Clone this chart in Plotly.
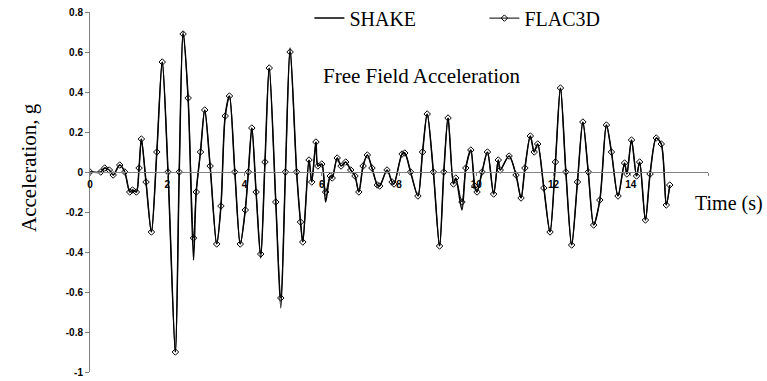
import plotly.graph_objects as go

# Time (s) of points
time_s = [0.00, 0.28, 0.38, 0.50, 0.60, 0.77, 0.90, 1.03, 1.10, 1.20,
          1.27, 1.33, 1.45, 1.59, 1.73, 1.87, 2.02, 2.21, 2.31, 2.41,
          2.54, 2.68, 2.75, 2.86, 2.97, 3.11, 3.28, 3.39, 3.50, 3.61,
          3.75, 3.89, 4.02, 4.10, 4.19, 4.30, 4.42, 4.53, 4.64, 4.81,
          4.94, 5.06, 5.18, 5.35, 5.45, 5.51, 5.67, 5.74, 5.85, 5.90,
          6.00, 6.10, 6.22, 6.27, 6.40, 6.50, 6.62, 6.75, 6.86, 6.96,
          7.07, 7.18, 7.30, 7.44, 7.50, 7.69, 7.82, 7.87, 8.08, 8.15,
          8.30, 8.49, 8.61, 8.73, 8.89, 9.05, 9.16, 9.27, 9.41, 9.47,
          9.63, 9.73, 9.86, 9.96, 10.02, 10.15, 10.29, 10.45, 10.57, 10.62,
          10.85, 11.03, 11.16, 11.26, 11.40, 11.50, 11.59, 11.75, 11.91, 12.05,
          12.18, 12.32, 12.47, 12.62, 12.76, 12.90, 13.04, 13.20, 13.37, 13.50,
          13.67, 13.84, 13.90, 14.02, 14.15, 14.23, 14.38, 14.50, 14.66, 14.79,
          14.92, 15.01]

shake_g = [0.000, 0.000, 0.020, 0.010, -0.015, 0.035, 0.000, -0.100, -0.090, -0.100,
           0.020, 0.165, -0.050, -0.300, 0.100, 0.550, 0.000, -0.900, 0.000, 0.700,
           0.370, -0.440, -0.100, 0.100, 0.310, 0.030, -0.360, -0.170, 0.280, 0.380,
           0.000, -0.360, -0.190, 0.000, 0.220, -0.100, -0.430, 0.050, 0.520, -0.150,
           -0.680, 0.000, 0.620, 0.000, -0.250, -0.350, 0.060, -0.050, 0.150, 0.030,
           0.040, -0.150, -0.020, -0.030, 0.070, 0.030, 0.050, 0.010, -0.020, -0.100,
           0.030, 0.085, 0.020, -0.065, -0.070, 0.010, -0.050, -0.060, 0.090, 0.095,
           0.000, -0.120, 0.100, 0.290, 0.000, -0.370, 0.000, 0.270, -0.060, -0.030,
           -0.190, 0.020, 0.110, -0.070, -0.100, 0.000, 0.100, -0.110, 0.060, 0.010,
           0.080, -0.015, -0.130, 0.020, 0.180, 0.100, 0.140, -0.080, -0.300, 0.050,
           0.420, 0.000, -0.365, -0.050, 0.250, 0.000, -0.265, -0.140, 0.235, 0.100,
           -0.120, 0.045, -0.010, 0.160, -0.020, 0.050, -0.240, -0.010, 0.170, 0.140,
           -0.165, -0.065]

flac3d_g = [0.000, 0.000, 0.020, 0.010, -0.015, 0.035, 0.000, -0.100, -0.090, -0.100,
            0.020, 0.165, -0.050, -0.300, 0.100, 0.550, 0.000, -0.900, 0.000, 0.690,
            0.370, -0.330, -0.100, 0.100, 0.310, 0.030, -0.360, -0.170, 0.280, 0.380,
            0.000, -0.360, -0.190, 0.000, 0.220, -0.100, -0.410, 0.050, 0.520, -0.150,
            -0.630, 0.000, 0.600, 0.000, -0.250, -0.350, 0.060, -0.050, 0.150, 0.030,
            0.040, -0.100, -0.020, -0.030, 0.070, 0.030, 0.050, 0.010, -0.020, -0.100,
            0.030, 0.085, 0.020, -0.065, -0.070, 0.010, -0.050, -0.060, 0.090, 0.095,
            0.000, -0.120, 0.100, 0.290, 0.000, -0.370, 0.000, 0.270, -0.060, -0.030,
            -0.150, 0.020, 0.110, -0.070, -0.100, 0.000, 0.100, -0.110, 0.060, 0.010,
            0.080, -0.015, -0.130, 0.020, 0.180, 0.100, 0.140, -0.080, -0.300, 0.050,
            0.420, 0.000, -0.365, -0.050, 0.250, 0.000, -0.265, -0.140, 0.235, 0.100,
            -0.120, 0.045, -0.010, 0.160, -0.020, 0.050, -0.240, -0.010, 0.170, 0.140,
            -0.165, -0.065]

x_ticks = [0, 2, 4, 6, 8, 10, 12, 14, 16]
x_tick_text = ["0", "2", "4", "6", "8", "10", "12", "14", ""]
y_ticks = [0.8, 0.6, 0.4, 0.2, 0, -0.2, -0.4, -0.6, -0.8, -1]
y_tick_text = ["0.8", "0.6", "0.4", "0.2", "0", "-0.2", "-0.4", "-0.6", "-0.8", "-1"]

serif = "Liberation Serif, Times New Roman, serif"
tickfont = dict(family="Liberation Sans, Arial, sans-serif", size=10, color="black", weight="bold")

fig = go.Figure()
fig.add_trace(go.Scatter(
    x=time_s, y=shake_g, name="SHAKE", mode="lines",
    line=dict(color="black", width=1.5, shape="spline", smoothing=0.8),
))
fig.add_trace(go.Scatter(
    x=time_s, y=flac3d_g, name="FLAC3D", mode="lines+markers",
    line=dict(color="black", width=1, shape="spline", smoothing=0.8),
    marker=dict(symbol="diamond-open", size=5, color="black", line=dict(width=1, color="black")),
))

fig.update_layout(
    width=767, height=381,
    margin=dict(l=90, r=59, t=12, b=9, autoexpand=False),
    paper_bgcolor="white", plot_bgcolor="white",
    showlegend=True,
    legend=dict(
        orientation="h", x=0.355, xanchor="left", y=0.983, yanchor="middle",
        font=dict(family=serif, size=20, color="black"),
        bgcolor="rgba(0,0,0,0)", entrywidth=130, entrywidthmode="pixels",
        itemwidth=30,
    ),
    xaxis=dict(
        range=[0, 16], tickvals=x_ticks, ticktext=x_tick_text,
        showline=True, linecolor="#808080", linewidth=1,
        ticks="outside", ticklen=3, tickcolor="#808080",
        showgrid=False, zeroline=False, automargin=False,
        anchor="free", position=1 / 1.8,
        tickfont=tickfont,
    ),
    yaxis=dict(
        range=[-1, 0.8], tickvals=y_ticks, ticktext=y_tick_text,
        showline=True, linecolor="#808080", linewidth=1,
        ticks="outside", ticklen=4, tickcolor="#808080",
        showgrid=False, zeroline=False, domain=[0, 1], automargin=False,
        tickfont=tickfont,
    ),
    annotations=[
        dict(text="Free Field Acceleration", xref="paper", yref="paper",
             x=(422 - 90) / 618, y=(372 - 76) / 360, xanchor="center", yanchor="middle",
             showarrow=False, font=dict(family=serif, size=21, color="black")),
        dict(text="Time (s)", xref="paper", yref="paper",
             x=(729 - 90) / 618, y=(372 - 203) / 360, xanchor="center", yanchor="middle",
             showarrow=False, font=dict(family=serif, size=20, color="black")),
        dict(text="Acceleration, g", xref="paper", yref="paper",
             x=(29 - 90) / 618, y=(372 - 168) / 360, xanchor="center", yanchor="middle",
             textangle=-90, showarrow=False, font=dict(family=serif, size=21, color="black")),
    ],
)

fig.write_html("out.html")
